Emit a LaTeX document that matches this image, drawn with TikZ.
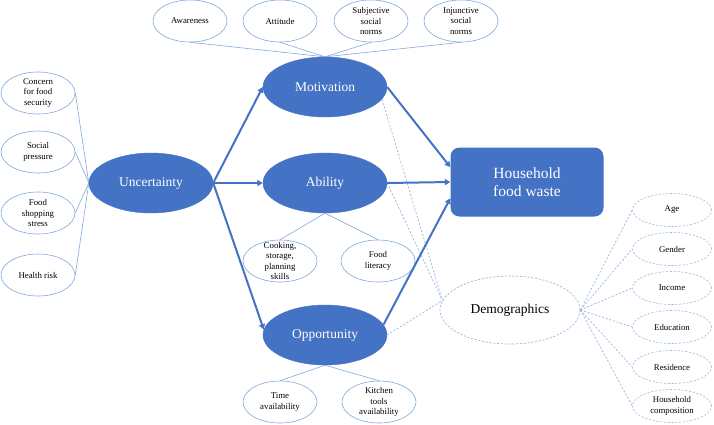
\documentclass[tikz,border=0pt]{standalone}
\usepackage{fontspec}
\setmainfont{Liberation Serif}
\usetikzlibrary{arrows.meta,shapes.geometric}
\definecolor{fwBlue}{HTML}{4472C4}
\definecolor{fwLine}{HTML}{82A8DB}
\definecolor{fwDash}{HTML}{9BB9E2}

\begin{document}
\begin{tikzpicture}[x=1pt,y=-1pt,
    core/.style={ellipse,fill=fwBlue,draw=fwBlue,text=white,minimum width=124pt,
                 minimum height=60pt,inner sep=0pt,font=\fontsize{13.5}{16}\selectfont},
    factor/.style={ellipse,draw=fwLine,line width=0.6pt,minimum width=74pt,
                   minimum height=42pt,inner sep=0pt},
    dfactor/.style={factor,draw=fwDash,dash pattern=on 2.2pt off 1.6pt,
                    minimum width=79pt,minimum height=33pt},
    lbl/.style={align=center,font=\fontsize{8.8}{10.5}\selectfont,inner sep=0pt},
    link/.style={draw=fwLine,line width=0.6pt},
    dlink/.style={draw=fwDash,line width=0.7pt,dash pattern=on 2.2pt off 1.6pt},
    flow/.style={draw=fwBlue,line width=2pt,-{Triangle[length=5.5pt,width=6pt]}}]
  \useasboundingbox (0,0) rectangle (714,424);

  % central constructs
  \node[core] (unc) at (151,183) {Uncertainty};
  \node[core] (mot) at (325,87) {Motivation};
  \node[core] (abi) at (325,183) {Ability};
  \node[core] (opp) at (325,335) {Opportunity};
  \node[rectangle,rounded corners=9pt,fill=fwBlue,text=white,minimum width=153pt,
        minimum height=69pt,align=center,font=\fontsize{15.5}{18.5}\selectfont] (hfw)
        at (527,182) {Household\\food waste};
  \node[ellipse,draw=fwDash,line width=0.7pt,dash pattern=on 2.2pt off 1.6pt,
        minimum width=140pt,minimum height=68pt,inner sep=0pt,
        font=\fontsize{13.5}{16}\selectfont] (dem) at (510,310) {Demographics};

  % uncertainty factors
  \node[factor,label={[lbl]center:Concern\\for food\\security}] (con) at (38,93) {};
  \node[factor,label={[lbl]center:Social\\pressure}] (soc) at (38,152) {};
  \node[factor,label={[lbl]center:Food\\shopping\\stress}] (sho) at (38,213) {};
  \node[factor,label={[lbl]center:Health risk}] (hea) at (38,275) {};

  % motivation factors
  \node[factor,label={[lbl]center:Awareness}] (awa) at (190,21) {};
  \node[factor,label={[lbl]center:Attitude}] (att) at (280,21) {};
  \node[factor,label={[lbl]center:Subjective\\social\\norms}] (sub) at (371,21) {};
  \node[factor,label={[lbl]center:Injunctive\\social\\norms}] (inj) at (461,21) {};

  % ability and opportunity factors
  \node[factor,label={[lbl]center:Cooking,\\storage,\\planning\\skills}] (coo) at (280,261) {};
  \node[factor,label={[lbl]center:Food\\literacy}] (lit) at (378,261) {};
  \node[factor,label={[lbl]center:Time\\availability}] (tim) at (280,402) {};
  \node[factor,label={[lbl]center:Kitchen\\tools\\availability}] (kit) at (379,402) {};

  % demographic factors
  \node[dfactor,label={[lbl]center:Age}] (age) at (672,210) {};
  \node[dfactor,label={[lbl]center:Gender}] (gen) at (672,249) {};
  \node[dfactor,label={[lbl]center:Income}] (inc) at (672,288) {};
  \node[dfactor,label={[lbl]center:Education}] (edu) at (672,327) {};
  \node[dfactor,label={[lbl]center:Residence}] (res) at (672,367) {};
  \node[dfactor,label={[lbl]center:Household\\composition}] (hco) at (672,406) {};

  % thin links
  \draw[link] (con.east) -- (unc.west);
  \draw[link] (soc.east) -- (unc.west);
  \draw[link] (sho.east) -- (unc.west);
  \draw[link] (hea.east) -- (unc.west);
  \draw[link] (awa.south) -- (mot.north);
  \draw[link] (att.south) -- (mot.north);
  \draw[link] (sub.south) -- (mot.north);
  \draw[link] (inj.south) -- (mot.north);
  \draw[link] (abi.south) -- (coo.north);
  \draw[link] (abi.south) -- (lit.north);
  \draw[link] (opp.south) -- (tim.north);
  \draw[link] (opp.south) -- (kit.north);

  % dashed links
  \draw[dlink] (mot.-12) -- (dem.172);
  \draw[dlink] (abi.east) -- (dem.172);
  \draw[dlink] (opp.east) -- (dem.172);
  \draw[dlink] (dem.east) -- (age.west);
  \draw[dlink] (dem.east) -- (gen.west);
  \draw[dlink] (dem.east) -- (inc.west);
  \draw[dlink] (dem.east) -- (edu.west);
  \draw[dlink] (dem.east) -- (res.west);
  \draw[dlink] (dem.east) -- (hco.west);

  % main paths
  \draw[flow] (unc.east) -- (mot.west);
  \draw[flow] (unc.east) -- (abi.west);
  \draw[flow] (unc.east) -- (opp.175);
  \draw[flow] (mot.east) -- (hfw.169);
  \draw[flow] (abi.east) -- (hfw.west);
  \draw[flow] (opp.10) -- (hfw.192);
\end{tikzpicture}
\end{document}
